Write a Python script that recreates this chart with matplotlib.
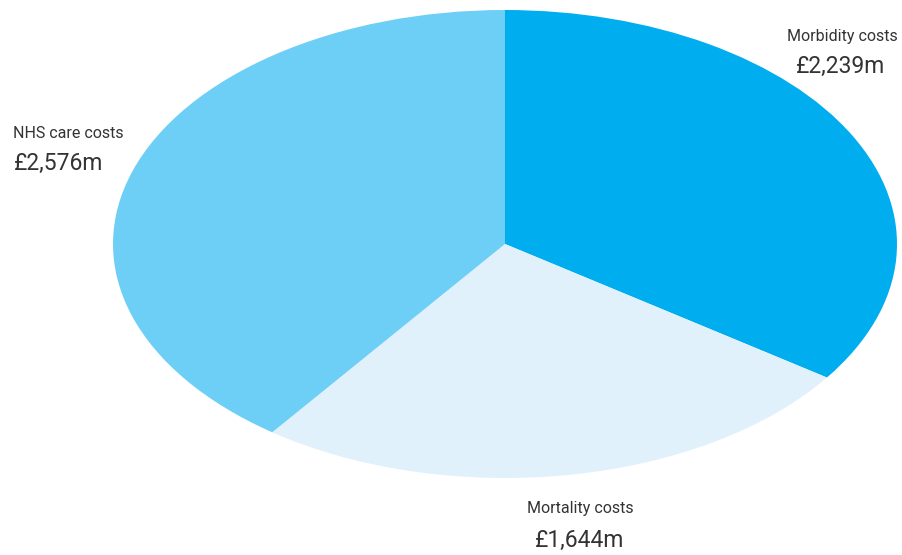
import matplotlib
matplotlib.use('Agg')
import matplotlib.pyplot as plt

labels = ['Morbidity costs', 'Mortality costs', 'NHS care costs']
values = [2239, 1644, 2576]  # £m
colors = ['#00aeef', '#e0f1fb', '#6dcff6']

W, H = 903, 555
fig = plt.figure(figsize=(W / 100, H / 100), dpi=100)

# ellipse spans x 113-897, y 10-478 px
ax = fig.add_axes([113 / W, (H - 478) / H, 784 / W, 468 / H])
ax.pie(values, colors=colors, startangle=90, counterclock=False,
       wedgeprops=dict(linewidth=0))
ax.set_aspect('auto')
ax.set_xlim(-1, 1)
ax.set_ylim(-1, 1)
ax.axis('off')

font = ['Roboto', 'DejaVu Sans']
txt = '#333333'
# pixel positions: x of label, y of label, x of value, y of value
pos = [(842, 36, 841, 66), (580, 508, 580, 540), (68, 133, 59, 163)]
for lab, val, (xl, yl, xv, yv) in zip(labels, values, pos):
    fig.text(xl / W, 1 - yl / H, lab, ha='center', va='center', fontsize=11.5,
             color=txt, family=font)
    fig.text(xv / W, 1 - yv / H, f'£{val:,}m', ha='center', va='center', fontsize=16.5,
             color=txt, family=font)

fig.savefig('out.png', dpi=100)
